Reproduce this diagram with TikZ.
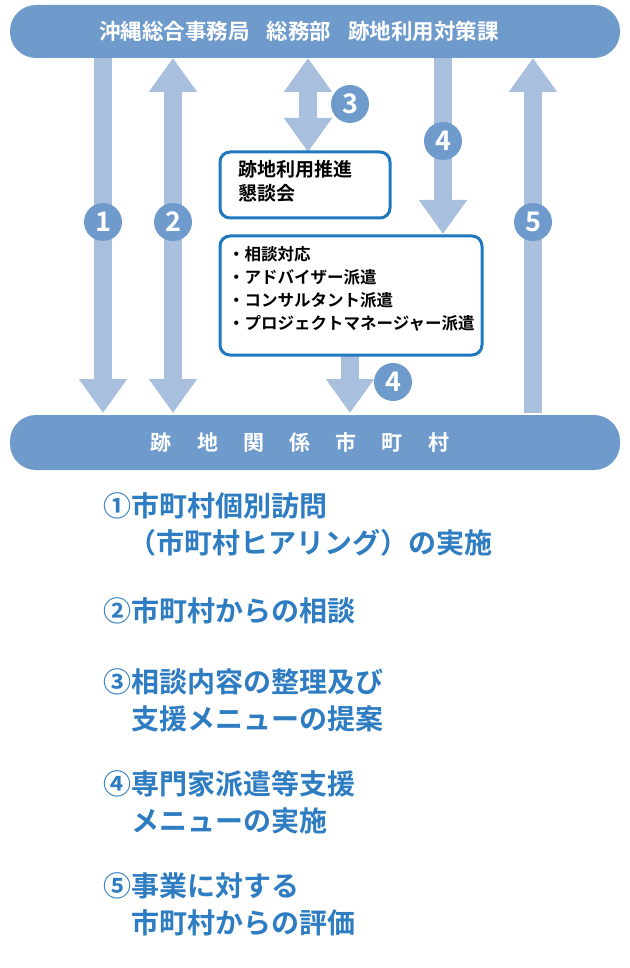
\documentclass[tikz,border=0pt]{standalone}
\usepackage{fontspec}
\setmainfont{Noto Sans CJK JP}[BoldFont={Noto Sans CJK JP Bold}]
\newcommand\jpb{\bfseries}
\usetikzlibrary{arrows.meta}
\definecolor{bar}{HTML}{6F9BCC}
\definecolor{arr}{HTML}{A8BFDE}
\definecolor{bx}{HTML}{2078BE}
\definecolor{tx}{HTML}{2E7CC1}
\tikzset{
  x=1pt,y=-1pt,
  barn/.style={fill=bar,rounded corners=26pt,draw=none},
  ar/.style={draw=arr,line width=18pt,-{Triangle[width=46pt,length=34pt]}},
  dar/.style={draw=arr,line width=18pt,{Triangle[width=46pt,length=34pt]}-{Triangle[width=46pt,length=34pt]}},
  num/.style={circle,fill=bar,minimum size=38pt,inner sep=0pt,text=white,font=\fontsize{27pt}{27pt}\jpb},
  box/.style={draw=bx,line width=3pt,rounded corners=10pt,fill=white},
  lst/.style={anchor=west,text=tx,font=\fontsize{28pt}{37pt}\jpb,align=left}
}
\begin{document}
\begin{tikzpicture}
\useasboundingbox (0,0) rectangle (629,968);
\fill[barn] (10,5) rectangle (620,58);
\node[text=white,font=\fontsize{21.5pt}{22pt}\jpb] (top) at (299,31) {沖縄総合事務局\hspace{0.8em}総務部\hspace{0.8em}跡地利用対策課};
\fill[barn] (10,415) rectangle (620,470);
\node[text=white,font=\fontsize{21pt}{21pt}\jpb] (bot) at (300,442) {跡\hspace{1.2em}地\hspace{1.2em}関\hspace{1.2em}係\hspace{1.2em}市\hspace{1.2em}町\hspace{1.2em}村};
\coordinate (a1s) at (103,58); \coordinate (a1e) at (103,413);
\coordinate (a2s) at (173,58); \coordinate (a2e) at (173,413);
\coordinate (a3s) at (308,58); \coordinate (a3e) at (308,152);
\coordinate (a4s) at (443,58); \coordinate (a4e) at (443,234);
\coordinate (a5s) at (533,413); \coordinate (a5e) at (533,58);
\coordinate (a6s) at (350,350); \coordinate (a6e) at (350,413);
\draw[ar] (a1s) -- (a1e);
\draw[dar] (a2s) -- (a2e);
\draw[dar] (a3s) -- (a3e);
\draw[ar] (a4s) -- (a4e);
\draw[ar] (a5s) -- (a5e);
\draw[ar] (a6s) -- (a6e);
\node[box,minimum width=170pt,minimum height=66pt] (b1) at (305,185) {};
\node[anchor=north west,align=left,font=\fontsize{19pt}{24pt}\jpb,inner sep=0pt] (b1t) at (238,160) {跡地利用推進\\懇談会};
\node[box,minimum width=262pt,minimum height=119pt] (b2) at (351,295.5) {};
\node[anchor=north west,align=left,font=\fontsize{16.5pt}{23pt}\jpb,inner sep=0pt] (b2t) at (228,246) {・相談対応\\・アドバイザー派遣\\・コンサルタント派遣\\・プロジェクトマネージャー派遣};
\node[num] (n1) at (103,222) {1};
\node[num] (n2) at (173,222) {2};
\node[num] (n3) at (350,104) {3};
\node[num] (n4) at (443,141) {4};
\node[num] (n4b) at (393,382) {4};
\node[num] (n5) at (533,222) {5};
\node[lst] (l1) at (100,524) {①市町村個別訪問\\\hspace{0.9em}（市町村ヒアリング）の実施};
\node[lst] (l2) at (100,611) {②市町村からの相談};
\node[lst] (l3) at (100,700) {③相談内容の整理及び\\\hspace{1em}支援メニューの提案};
\node[lst] (l4) at (100,802) {④専門家派遣等支援\\\hspace{1em}メニューの実施};
\node[lst] (l5) at (100,904) {⑤事業に対する\\\hspace{1em}市町村からの評価};
\end{tikzpicture}
\end{document}
